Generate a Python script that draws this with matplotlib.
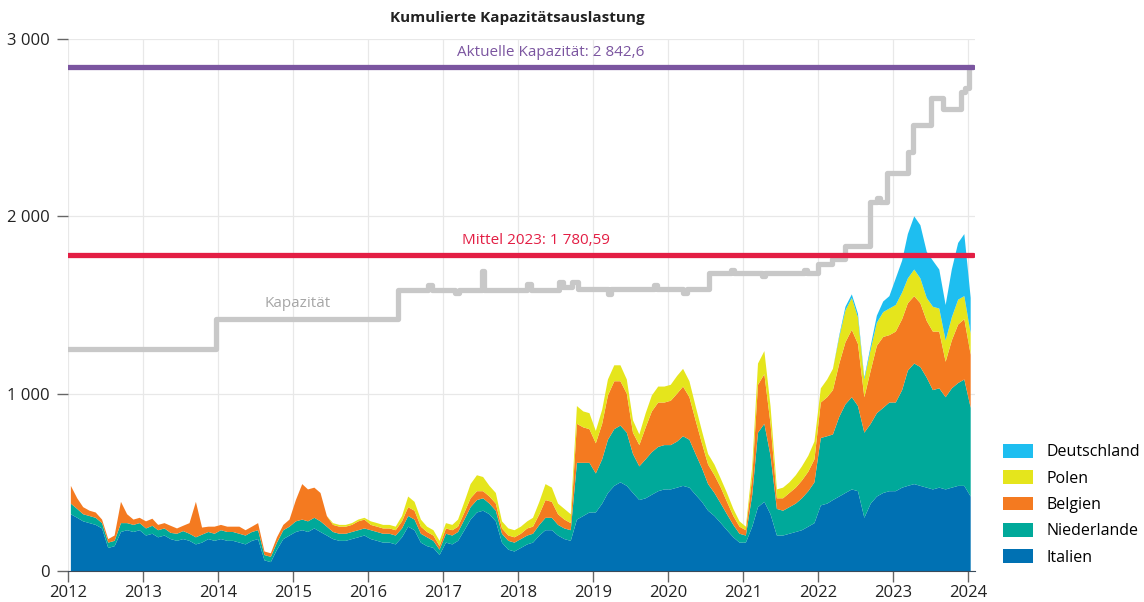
import numpy as np
import pandas as pd
import matplotlib
matplotlib.use('Agg')
import matplotlib.pyplot as plt
import matplotlib.dates as mdates
from matplotlib.ticker import FuncFormatter

plt.rcParams['font.family'] = ['Open Sans', 'DejaVu Sans']

# monthly values (mid-month), Jan 2012 .. Jan 2024
months = pd.date_range('2012-01-01', '2024-01-01', freq='MS') + pd.Timedelta(days=14)

italien = [
    320, 300, 280, 270, 260, 240, 130, 140, 220, 230, 220, 230,   # 2012
    200, 210, 190, 200, 180, 170, 180, 170, 150, 160, 180, 170,   # 2013
    180, 170, 170, 160, 150, 170, 180, 60, 50, 120, 180, 200,     # 2014
    220, 230, 220, 240, 220, 200, 180, 170, 170, 180, 190, 200,   # 2015
    180, 170, 160, 160, 150, 190, 250, 230, 160, 140, 130, 90,    # 2016
    160, 150, 170, 230, 290, 330, 340, 320, 280, 160, 120, 110,   # 2017
    130, 150, 160, 200, 230, 230, 200, 180, 170, 290, 310, 330,   # 2018
    330, 380, 440, 480, 500, 480, 440, 400, 410, 430, 450, 460,   # 2019
    460, 470, 480, 470, 430, 390, 340, 310, 270, 230, 190, 160,   # 2020
    160, 250, 360, 390, 320, 200, 200, 210, 220, 230, 250, 270,   # 2021
    370, 380, 400, 420, 440, 460, 450, 300, 380, 420, 440, 450,   # 2022
    450, 470, 480, 490, 480, 470, 460, 470, 460, 470, 480, 480,   # 2023
    420]
niederlande = [
    60, 50, 40, 40, 40, 30, 30, 30, 50, 40, 40, 40,
    40, 45, 40, 40, 35, 40, 45, 40, 40, 45, 40, 40,
    50, 50, 50, 50, 50, 50, 50, 30, 30, 40, 50, 50,
    60, 60, 60, 60, 60, 50, 40, 40, 40, 40, 40, 40,
    50, 50, 50, 50, 50, 50, 60, 60, 50, 50, 40, 30,
    50, 50, 50, 60, 70, 70, 70, 60, 60, 50, 50, 50,
    50, 50, 50, 60, 70, 70, 60, 60, 60, 320, 300, 280,
    220, 250, 300, 320, 320, 300, 220, 190, 220, 240, 250, 250,
    250, 260, 280, 270, 230, 190, 150, 130, 110, 90, 70, 50,
    40, 180, 420, 440, 330, 150, 140, 150, 160, 180, 200, 230,
    380, 380, 370, 450, 500, 520, 480, 480, 450, 470, 480, 500,
    500, 550, 650, 680, 670, 620, 560, 560, 520, 560, 580, 600,
    500]
belgien = [
    100, 60, 40, 30, 30, 20, 20, 30, 120, 50, 30, 30,
    40, 40, 30, 30, 40, 30, 30, 60, 200, 40, 30, 40,
    30, 30, 30, 40, 30, 30, 40, 20, 20, 30, 30, 40,
    120, 200, 180, 170, 160, 60, 40, 40, 40, 40, 50, 50,
    30, 30, 30, 30, 30, 40, 50, 50, 40, 30, 30, 20,
    30, 30, 30, 40, 50, 50, 40, 40, 40, 30, 30, 30,
    30, 40, 40, 60, 100, 90, 60, 50, 40, 220, 200, 190,
    170, 200, 250, 270, 250, 220, 120, 120, 180, 230, 250, 240,
    250, 270, 280, 240, 190, 140, 110, 100, 90, 70, 50, 40,
    30, 100, 270, 280, 180, 60, 70, 80, 90, 100, 110, 130,
    200, 220, 250, 300, 350, 380, 350, 200, 300, 380, 400, 380,
    400, 400, 380, 380, 360, 320, 330, 320, 200, 270, 330, 340,
    300]
polen = [
    0, 0, 0, 0, 0, 0, 0, 0, 0, 0, 0, 0,
    0, 0, 0, 0, 0, 0, 0, 0, 0, 0, 0, 0,
    0, 0, 0, 0, 0, 0, 0, 0, 0, 0, 0, 0,
    0, 0, 0, 0, 0, 0, 10, 10, 10, 10, 10, 10,
    20, 20, 20, 20, 20, 30, 60, 50, 40, 30, 30, 30,
    30, 30, 40, 60, 80, 90, 80, 60, 60, 40, 40, 40,
    40, 40, 50, 70, 90, 80, 60, 60, 50, 100, 90, 90,
    70, 80, 90, 90, 90, 80, 70, 60, 80, 90, 90, 90,
    90, 100, 100, 90, 80, 70, 60, 60, 50, 50, 40, 30,
    20, 60, 120, 130, 100, 50, 60, 60, 70, 80, 90, 100,
    80, 100, 120, 150, 180, 180, 150, 100, 120, 130, 140, 150,
    150, 150, 140, 150, 140, 130, 140, 130, 120, 130, 140, 130,
    120]
deutschland = [0] * 120 + [
    0, 0, 0, 10, 20, 20, 20, 10, 20, 40, 60, 70,
    150, 180, 250, 300, 300, 260, 260, 220, 200, 270, 320, 350,
    200]

# installed capacity (step line)
cap_dates = pd.to_datetime([
    '2012-01-01', '2013-12-20', '2016-05-28', '2016-10-20', '2016-11-10',
    '2017-03-01', '2017-03-20', '2017-07-12', '2017-07-20', '2018-02-15',
    '2018-03-05', '2018-07-20', '2018-08-10', '2018-09-20', '2018-10-20',
    '2019-03-15', '2019-04-01', '2019-10-25', '2019-11-10', '2020-03-15',
    '2020-04-01', '2020-07-20', '2020-11-05', '2020-11-20', '2021-04-05',
    '2021-04-20', '2021-10-25', '2021-11-10', '2021-12-31', '2022-03-10',
    '2022-05-15', '2022-09-10', '2022-10-15', '2022-10-28', '2022-12-05',
    '2023-03-15', '2023-04-10', '2023-07-05', '2023-09-01', '2023-11-28',
    '2023-12-20', '2024-01-05', '2024-01-25'])
cap_values = [
    1250, 1420, 1585, 1610, 1585,
    1565, 1585, 1690, 1585, 1620,
    1585, 1630, 1600, 1630, 1590,
    1560, 1590, 1610, 1590, 1570,
    1590, 1680, 1700, 1680, 1665,
    1680, 1700, 1680, 1730, 1760,
    1830, 2080, 2105, 2080, 2245,
    2360, 2515, 2665, 2605, 2700,
    2725, 2842.6, 2842.6]

aktuell = 2842.6
mittel_2023 = 1780.59

labels = ['Italien', 'Niederlande', 'Belgien', 'Polen', 'Deutschland']
colors = ['#0071b3', '#00a99a', '#f47a20', '#e5e51c', '#1ebef0']

fig = plt.figure(figsize=(11.44, 6.02), dpi=100)
ax = fig.add_axes([68 / 1144, 31 / 602, 907 / 1144, 532 / 602])

ax.stackplot(months, italien, niederlande, belgien, polen, deutschland,
             colors=colors, labels=labels, linewidth=0, zorder=2)

t0 = pd.Timestamp('2012-01-01')
t1 = pd.Timestamp('2024-01-25')
ax.step(cap_dates, cap_values, where='post', color='#c8c8c8', lw=3.8,
        solid_joinstyle='round', solid_capstyle='round', zorder=3)
ax.plot([t0, t1], [mittel_2023] * 2, color='#e31e44', lw=3.8,
        solid_capstyle='round', zorder=4)
ax.plot([t0, t1], [aktuell] * 2, color='#7b55a0', lw=3.8,
        solid_capstyle='round', zorder=4)

ax.text(pd.Timestamp('2018-06-10'), 2925, 'Aktuelle Kapazität: 2 842,6',
        color='#7b55a0', ha='center', va='center', fontsize=11)
ax.text(pd.Timestamp('2018-04-01'), 1865, 'Mittel 2023: 1 780,59',
        color='#e31e44', ha='center', va='center', fontsize=11)
ax.text(pd.Timestamp('2015-01-25'), 1510, 'Kapazität',
        color='#a6a6a6', ha='center', va='center', fontsize=11)

ax.set_xlim(t0, pd.Timestamp('2024-02-05'))
ax.set_ylim(0, 3000)
ax.set_yticks([0, 1000, 2000, 3000])
ax.yaxis.set_major_formatter(FuncFormatter(lambda v, p: f'{v:,.0f}'.replace(',', ' ')))
ax.xaxis.set_major_locator(mdates.YearLocator())
ax.xaxis.set_major_formatter(mdates.DateFormatter('%Y'))

ax.grid(True, color='#e8e8e8', lw=0.9, zorder=0)
ax.set_axisbelow(True)
for s in ['top', 'right', 'left']:
    ax.spines[s].set_visible(False)
ax.spines['bottom'].set_color('#3a4a5a')
ax.spines['bottom'].set_zorder(5)
ax.tick_params(axis='both', labelsize=12, colors='#222222', length=8, width=1)
ax.tick_params(axis='x', pad=2)
ax.tick_params(axis='y', pad=5)
ax.tick_params(axis='both', color='#666666')

fig.text(517 / 1144, 1 - 18 / 602, 'Kumulierte Kapazitätsauslastung',
         ha='center', va='center', fontsize=11, weight='bold', color='#222222')

h, l = ax.get_legend_handles_labels()
fig.legend(h[::-1], l[::-1], loc='upper left', bbox_to_anchor=(1003 / 1144, 1 - 444 / 602),
           frameon=False, fontsize=11.5, borderpad=0, borderaxespad=0,
           handlelength=1.9, handleheight=0.95, handletextpad=0.85, labelspacing=0.62)

fig.savefig('out.png', dpi=100)
